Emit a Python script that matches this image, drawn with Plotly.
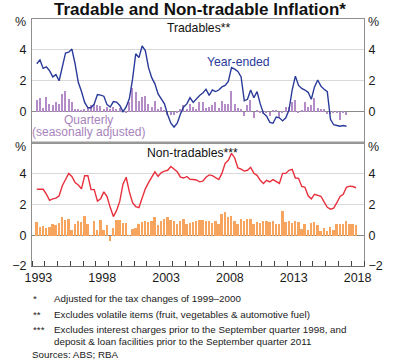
import plotly.graph_objects as go

# ---------------- data ----------------
# Quarterly observations start in the June quarter 1993
start_year, start_q = 1993, 2

tradables_year_ended = [
    3.1, 3.35, 2.8, 2.9, 2.65, 2.25, 2.4, 2.0, 2.9, 3.8,
    3.85, 4.05, 3.1, 1.9, 1.3, 0.6, 0.25, 0.25, 0.5, 1.1,
    1.07, 1.0, 0.45, 0.3, 0.65, 0.62, 0.4, 0.0, 0.3, 0.85,
    2.1, 3.75, 3.5, 4.25, 3.95, 2.85, 2.2, 1.8, 1.15, 0.8,
    0.5, -0.2, -0.75, -1.0, -0.75, -0.15, 0.3, 0.5, 0.9, 0.6,
    0.85, 1.05, 1.2, 1.45, 1.05, 1.4, 1.3, 1.4, 1.6, 1.7,
    1.95, 2.85, 2.75, 2.6, 2.25, 0.7, 0.8, 1.4, 0.9, 1.3,
    0.5, -0.1, -0.3, -0.7, -0.75, -0.35, -0.4, -0.6, -0.4, 0.1,
    1.4, 2.3, 1.7, 1.5, 1.4, 1.25, 0.8, 1.6, 2.05, 1.65,
    1.45, 1.3, -0.5, -0.85, -0.9, -0.95, -0.9, -0.95,
]

tradables_quarterly = [
    0.75, 0.9, 0.25, 0.95, 0.5, 0.4, 0.6, 0.5, 1.15, 1.35,
    0.8, 0.6, 0.2, 0.15, 0.05, 0.15, 0.3, 0.4, 0.5, 0.45,
    0.35, 0.15, 0.3, 0.2, 0.3, 0.15, 0.25, 0.1, -0.1, 0.6,
    1.55, 1.3, 0.7, 0.95, 1.0, 0.5, 0.3, 0.7, 0.2, 0.3,
    0.1, -0.25, -0.2, -0.25, -0.05, 0.2, 0.45, 0.2, 0.5, 0.3,
    0.15, 0.6, 0.65, 0.25, 0.3, 0.4, 0.6, 0.25, 0.7, 0.5,
    0.5, 1.35, 0.5, 0.25, 0.15, -0.3, 0.4, 0.75, -0.4, 0.05,
    -0.05, -0.15, -0.05, -0.3, 0.1, 0.05, -0.4, -0.05, 0.3, 0.3,
    0.6, 0.75, -0.05, 0.05, 0.6, 0.3, 0.45, 0.9, 0.25, 0.15,
    0.2, -0.15, -0.15, -0.1, -0.05, -0.55, -0.05, -0.25,
]

nontradables_year_ended = [
    2.97, 2.95, 2.97, 2.65, 2.25, 2.35, 2.4, 2.55, 3.2, 3.6,
    4.0, 3.8, 3.4, 3.25, 3.0, 3.85, 3.85, 2.95, 2.95, 2.2,
    2.35, 2.8, 2.5, 1.8, 1.2, 1.6, 2.2, 3.3, 3.75, 2.8,
    2.1, 1.85, 1.78, 2.4, 3.0, 3.4, 3.75, 4.1, 3.8, 4.05,
    4.15, 4.2, 4.45, 4.3, 4.1, 3.75, 3.7, 3.8, 3.62, 3.6,
    3.57, 3.45, 3.5, 3.75, 3.9, 3.85, 3.75, 3.6, 4.0, 4.65,
    4.85, 5.3, 5.0, 4.35, 4.27, 4.15, 4.2, 4.39, 4.0, 3.87,
    3.55, 3.35, 3.55, 3.45, 3.6, 3.45, 3.35, 4.0, 4.0, 4.2,
    4.26, 3.7, 3.68, 3.15, 3.1, 2.55, 2.35, 2.65, 2.6, 2.52,
    2.15, 1.8, 1.68, 1.75, 2.1, 2.5, 2.65, 3.1, 3.17, 3.15,
    3.07,
]

nontradables_quarterly = [
    0.88, 0.56, 0.6, 0.5, 0.55, 0.73, 0.67, 0.82, 1.2, 1.03,
    1.05, 0.34, 0.78, 0.92, 0.88, 1.25, 0.78, 0.02, 0.92, 0.39,
    1.03, 0.39, 0.67, -0.34, 0.5, 1.0, 1.03, 0.84, 0.82, 0.02,
    0.45, 0.52, 0.73, 0.88, 0.94, 0.88, 0.92, 1.2, 0.67, 0.98,
    1.1, 1.2, 1.0, 0.92, 0.78, 0.98, 1.1, 0.78, 0.82, 0.88,
    0.92, 1.0, 1.03, 0.92, 0.94, 0.82, 0.94, 0.78, 1.4, 1.5,
    1.2, 1.3, 0.98, 0.78, 1.1, 0.98, 1.1, 1.1, 0.73, 0.88,
    0.82, 0.94, 0.94, 0.88, 0.92, 0.73, 0.73, 1.57, 0.88, 0.98,
    0.82, 0.98, 0.88, 0.45, 0.78, 0.34, 0.82, 0.88, 0.67, 0.28,
    0.49, 0.28, 0.56, 0.34, 0.73, 0.73, 0.78, 0.92, 0.73, 0.73,
    0.67,
]

year_labels = ["1993", "1998", "2003", "2008", "2013", "2018"]
y_ticks_top = [0, 2, 4]
y_ticks_bottom = [-2, 0, 2, 4]

footnote_lines = [
    ("*", "Adjusted for the tax changes of 1999–2000"),
    ("**", "Excludes volatile items (fruit, vegetables & automotive fuel)"),
    ("***", "Excludes interest charges prior to the September quarter 1998, and"),
    ("", "deposit & loan facilities prior to the September quarter 2011"),
]
source_text = "Sources: ABS; RBA"


# quarter mid-points as decimal years
def quarter_positions(n):
    out = []
    y, q = start_year, start_q
    for _ in range(n):
        out.append(y + (q - 1) * 0.25 + 0.125)
        q += 1
        if q > 4:
            q = 1
            y += 1
    return out


x_top = quarter_positions(len(tradables_year_ended))
x_bot = quarter_positions(len(nontradables_year_ended))

# ---------------- style ----------------
FONT = "Liberation Sans, Arial, Helvetica, sans-serif"
BLUE = "#2a3a99"
PURPLE = "#b48cc7"
PURPLE_TXT = "#a883bd"
RED = "#e8303c"
ORANGE = "#f7a55e"
BORDER = "#8f8f8f"
GRID = "#d9d9d9"
ZERO = "#8a8a8a"

fig = go.Figure()

# top panel (tradables)
fig.add_trace(go.Bar(x=x_top, y=tradables_quarterly, width=0.11,
                     marker=dict(color=PURPLE, line=dict(width=0)),
                     xaxis="x2", yaxis="y2", showlegend=False))
fig.add_trace(go.Scatter(x=x_top, y=tradables_year_ended, mode="lines",
                         line=dict(color=BLUE, width=1.4),
                         xaxis="x2", yaxis="y4", showlegend=False))
# bottom panel (non-tradables)
fig.add_trace(go.Bar(x=x_bot, y=nontradables_quarterly, width=0.15,
                     marker=dict(color=ORANGE, line=dict(width=0)),
                     xaxis="x", yaxis="y", showlegend=False))
fig.add_trace(go.Scatter(x=x_bot, y=nontradables_year_ended, mode="lines",
                         line=dict(color=RED, width=1.4),
                         xaxis="x", yaxis="y3", showlegend=False))

tick_font = dict(family=FONT, size=12.5, color="#1a1a1a")
yrange = [-2, 6]

common_y = dict(range=yrange, fixedrange=True, showgrid=True, gridcolor=GRID,
                gridwidth=1, zeroline=True, zerolinecolor=ZERO, zerolinewidth=1,
                showline=True, linecolor=BORDER, linewidth=1, ticks="",
                tickfont=tick_font, ticklabelstandoff=2)
right_y = dict(range=yrange, fixedrange=True, showgrid=False, zeroline=False,
               showline=True, linecolor=BORDER, linewidth=1, ticks="",
               tickfont=tick_font, side="right", ticklabelstandoff=1)

fig.update_layout(
    width=400, height=362,
    margin=dict(l=27, r=36, t=19, b=96),
    paper_bgcolor="white", plot_bgcolor="white",
    bargap=0, barmode="overlay",
    font=dict(family=FONT, color="#111"),
    title=dict(text="<b>Tradable and Non-tradable Inflation*</b>",
               x=0.5, xanchor="center", y=1 - 9.5 / 362, yanchor="middle",
               font=dict(family=FONT, size=17, color="#111")),
    xaxis=dict(domain=[0, 1], anchor="y", range=[1993, 2019], fixedrange=True,
               tickmode="array", tickvals=[int(t) + 0.5 for t in year_labels],
               ticktext=year_labels, ticks="", tickfont=tick_font,
               showline=True, linecolor="#6e6e6e", linewidth=1, mirror=True,
               showgrid=False, zeroline=False,
               minor=dict(tick0=1993, dtick=1, ticks="inside", ticklen=5,
                          tickcolor="#444", tickwidth=1, showgrid=False)),
    xaxis2=dict(domain=[0, 1], anchor="y2", matches="x", range=[1993, 2019],
                fixedrange=True, showticklabels=False, ticks="",
                showline=True, linecolor=BORDER, linewidth=1, mirror=True,
                showgrid=False, zeroline=False),
    yaxis=dict(domain=[0, 0.5], anchor="x", tickvals=y_ticks_bottom, **common_y),
    yaxis2=dict(domain=[0.5, 1], anchor="x2", tickvals=y_ticks_top, **common_y),
    yaxis3=dict(overlaying="y", anchor="x", tickvals=y_ticks_bottom, **right_y),
    yaxis4=dict(overlaying="y2", anchor="x2", tickvals=y_ticks_top, **right_y),
)

# thicker separator between panels
fig.add_shape(type="line", xref="paper", yref="paper", x0=0, x1=1, y0=0.5, y1=0.5,
              line=dict(color="#9a9a9a", width=2))


def py(px):
    """pixel row in the page -> paper y coordinate"""
    return (266 - px) / 247


def pxx(px):
    """pixel column in the page -> paper x coordinate"""
    return (px - 27) / 337


ann = []
# unit labels
for yy in (22, 147):
    ann.append(dict(text="%", x=-0.012, xanchor="right", y=py(yy), yanchor="middle"))
    ann.append(dict(text="%", x=1.006, xanchor="left", y=py(yy), yanchor="middle"))
ann_font = dict(family=FONT, size=12.5, color="#1a1a1a")
for a in ann:
    a.update(xref="paper", yref="paper", showarrow=False, font=ann_font)

labels = [
    dict(text="Tradables**", x=pxx(162), xanchor="left", y=py(28), font=dict(size=12.2, color="#111")),
    dict(text="Non-tradables***", x=pxx(142), xanchor="left", y=py(153), font=dict(size=12.2, color="#111")),
    dict(text="Year-ended", x=pxx(203), xanchor="left", y=py(61.5), font=dict(size=12.2, color=BLUE)),
    dict(text="Quarterly", x=pxx(84), xanchor="center", y=py(120), font=dict(size=12, color=PURPLE_TXT)),
    dict(text="(seasonally adjusted)", x=pxx(84), xanchor="center", y=py(132), font=dict(size=12, color=PURPLE_TXT)),
]
for a in labels:
    a["font"]["family"] = FONT
    a.update(xref="paper", yref="paper", showarrow=False, yanchor="middle")
    ann.append(a)

foot_font = dict(family=FONT, size=9.8, color="#1a1a1a")
foot_rows = [298.5, 314, 329.5, 341.5]
for (sym, txt), yy in zip(footnote_lines, foot_rows):
    if sym:
        ann.append(dict(text=sym, x=pxx(26), xanchor="left", y=py(yy), yanchor="middle",
                        xref="paper", yref="paper", showarrow=False, font=foot_font))
    ann.append(dict(text=txt, x=pxx(47), xanchor="left", y=py(yy), yanchor="middle",
                    xref="paper", yref="paper", showarrow=False, font=foot_font))
ann.append(dict(text=source_text, x=pxx(25), xanchor="left", y=py(354), yanchor="middle",
                xref="paper", yref="paper", showarrow=False, font=foot_font))

fig.update_layout(annotations=ann)

fig.write_html("out.html", config={"displayModeBar": False},
               post_script="document.body.style.margin='0';document.body.style.padding='0';")
